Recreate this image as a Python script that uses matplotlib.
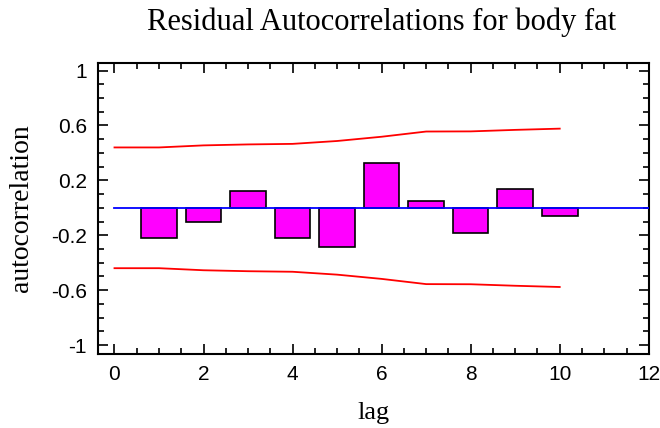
import numpy as np
import matplotlib
matplotlib.use('Agg')
import matplotlib.pyplot as plt
from matplotlib.ticker import MultipleLocator

lags = [1, 2, 3, 4, 5, 6, 7, 8, 9, 10]
acf = [-0.217, -0.102, 0.124, -0.217, -0.282, 0.326, 0.053, -0.180, 0.136, -0.056]
limit_lags = [0, 1, 2, 3, 4, 5, 6, 7, 8, 9, 10]
upper = [0.440, 0.440, 0.455, 0.462, 0.466, 0.487, 0.518, 0.556, 0.557, 0.568, 0.577]
lower = [-0.440, -0.440, -0.455, -0.462, -0.466, -0.487, -0.518, -0.556, -0.557, -0.568, -0.577]

fig = plt.figure(figsize=(6.6, 4.28), dpi=100)
ax = fig.add_axes([0.1485, 0.173, 0.8345, 0.68])

ax.bar(lags, acf, width=0.8, color='#ff00ff', edgecolor='black', linewidth=1.2, zorder=2)
ax.axhline(0, color='blue', linewidth=1.3, xmin=(0 + 0.37) / 12.37, zorder=3)
ax.plot(limit_lags, upper, c='red', linewidth=1.3, zorder=3)
ax.plot(limit_lags, lower, c='red', linewidth=1.3, zorder=3)

ax.set_xlim(-0.37, 12.0)
ax.set_ylim(-1.065, 1.056)
ax.xaxis.set_major_locator(MultipleLocator(2))
ax.xaxis.set_minor_locator(MultipleLocator(0.5))
ax.set_yticks([-1, -0.6, -0.2, 0.2, 0.6, 1])
ax.set_yticklabels(['-1', '-0.6', '-0.2', '0.2', '0.6', '1'])
ax.yaxis.set_minor_locator(MultipleLocator(0.1))
ax.tick_params(which='both', direction='in', top=True, right=True, width=1.2,
               labelsize=15, labelfontfamily='Liberation Sans')
ax.tick_params(which='major', length=7)
ax.tick_params(which='minor', length=4)
ax.tick_params(axis='x', pad=8)
ax.tick_params(axis='y', pad=8)
for s in ax.spines.values():
    s.set_linewidth(1.5)

ax.set_xlabel('lag', fontsize=19, family='Liberation Serif', labelpad=13)
ax.set_ylabel('autocorrelation', fontsize=20, family='Liberation Serif', labelpad=12)
ax.set_title('Residual Autocorrelations for body fat', fontsize=22, family='Liberation Serif',
             pad=24, x=0.5145)

fig.savefig('out.png', dpi=100)
